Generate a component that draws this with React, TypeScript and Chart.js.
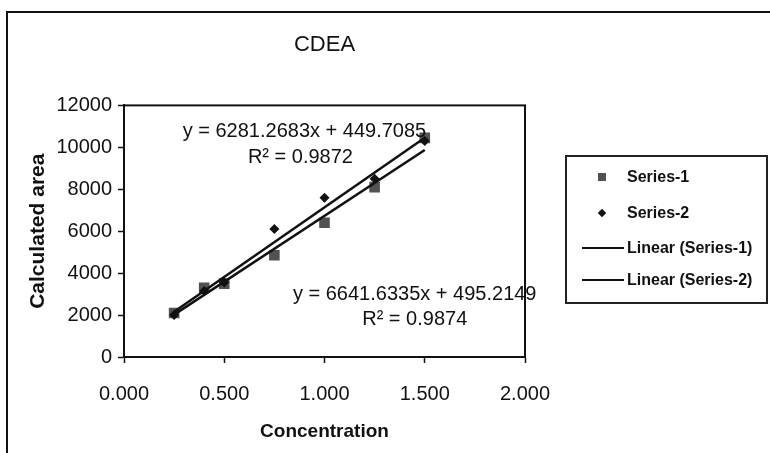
import React, { useEffect, useRef } from "react";
import { Chart, registerables } from "chart.js";

Chart.register(...registerables);

// ---- data ----
const chartTitle = "CDEA";
const xAxisTitle = "Concentration";
const yAxisTitle = "Calculated area";
const concentration = [0.25, 0.4, 0.5, 0.75, 1.0, 1.25, 1.5];
const series1 = [2100, 3300, 3500, 4850, 6400, 8100, 10450];
const series2 = [2000, 3150, 3550, 6100, 7600, 8500, 10300];
const seriesNames = ["Series-1", "Series-2"];
const trendNames = ["Linear (Series-1)", "Linear (Series-2)"];
const trendSlopes = [6641.6335, 6281.2683];
const trendIntercepts = [495.2149, 449.7085];
const trendR2 = ["0.9874", "0.9872"];
const xTickValues = [0, 0.5, 1, 1.5, 2];
const yTickValues = [0, 2000, 4000, 6000, 8000, 10000, 12000];

const FONT = '"Liberation Sans", Arial, sans-serif';

const xMin = Math.min(...concentration);
const xMax = Math.max(...concentration);
const trendLine = (i: number) => [
  { x: xMin, y: trendSlopes[i] * xMin + trendIntercepts[i] },
  { x: xMax, y: trendSlopes[i] * xMax + trendIntercepts[i] },
];
const eqText = (i: number) =>
  `y = ${trendSlopes[i].toFixed(4)}x + ${trendIntercepts[i].toFixed(4)}`;

// label anchors in data coordinates [x, y]
const labelAnchors = [
  { eq: [1.45, 2970], r2: [1.45, 1770] },
  { eq: [0.9, 10750], r2: [0.88, 9520] },
];

const framePlugin = {
  id: "frameAndLabels",
  afterDatasetsDraw(chart: any) {
    const { ctx, chartArea, scales } = chart;
    ctx.save();
    ctx.strokeStyle = "#111";
    ctx.lineWidth = 2;
    ctx.strokeRect(chartArea.left, chartArea.top, chartArea.right - chartArea.left, chartArea.bottom - chartArea.top);
    ctx.fillStyle = "#111";
    ctx.font = `20px ${FONT}`;
    ctx.textAlign = "center";
    ctx.textBaseline = "middle";
    [0, 1].forEach((i) => {
      const a = labelAnchors[i];
      ctx.fillText(eqText(i), scales.x.getPixelForValue(a.eq[0]), scales.y.getPixelForValue(a.eq[1]));
      ctx.fillText(`R² = ${trendR2[i]}`, scales.x.getPixelForValue(a.r2[0]), scales.y.getPixelForValue(a.r2[1]));
    });
    ctx.restore();
  },
};

const legendRows = [
  { label: seriesNames[0], kind: "square", h: 36 },
  { label: seriesNames[1], kind: "diamond", h: 36 },
  { label: trendNames[0], kind: "line", h: 33 },
  { label: trendNames[1], kind: "line", h: 31 },
];

export default function App() {
  const ref = useRef<HTMLCanvasElement>(null);
  useEffect(() => {
    if (!ref.current) return;
    const chart = new Chart(ref.current, {
      type: "scatter",
      data: {
        datasets: [
          {
            label: trendNames[0],
            data: trendLine(0),
            showLine: true,
            borderColor: "#111",
            borderWidth: 2.5,
            pointRadius: 0,
            order: 0,
          },
          {
            label: trendNames[1],
            data: trendLine(1),
            showLine: true,
            borderColor: "#111",
            borderWidth: 2.5,
            pointRadius: 0,
            order: 0,
          },
          {
            label: seriesNames[1],
            data: concentration.map((x, i) => ({ x, y: series2[i] })),
            pointStyle: "rectRot",
            pointRadius: 5,
            backgroundColor: "#111",
            borderColor: "#111",
            borderWidth: 0,
            order: 1,
          },
          {
            label: seriesNames[0],
            data: concentration.map((x, i) => ({ x, y: series1[i] })),
            pointStyle: "rect",
            pointRadius: 7.5,
            backgroundColor: "#525252",
            borderColor: "#525252",
            borderWidth: 0,
            order: 2,
          },
        ],
      },
      options: {
        responsive: false,
        animation: false,
        devicePixelRatio: 1,
        layout: { padding: { left: 0, top: 0, right: 245, bottom: 0 } },
        plugins: {
          legend: { display: false },
          tooltip: { enabled: false },
          title: {
            display: true,
            text: chartTitle,
            fullSize: false,
            color: "#111",
            font: { family: FONT, size: 22, weight: "normal" },
            padding: { top: 32, bottom: 47 },
          },
        },
        scales: {
          x: {
            type: "linear",
            min: 0,
            max: 2,
            afterBuildTicks: (s: any) => {
              s.ticks = xTickValues.map((v) => ({ value: v }));
            },
            afterFit: (s: any) => {
              s.height = 96;
            },
            ticks: {
              color: "#111",
              padding: 19,
              font: { family: FONT, size: 20 },
              callback: (v: any) => Number(v).toFixed(3),
            },
            grid: {
              display: true,
              drawOnChartArea: false,
              drawTicks: true,
              tickLength: 6,
              tickColor: "#111",
              tickWidth: 1.5,
            },
            border: { display: true, color: "#111", width: 2 },
            title: {
              display: true,
              text: xAxisTitle,
              color: "#111",
              font: { family: FONT, size: 19, weight: "bold" },
              padding: { top: 0, bottom: 10 },
            },
          },
          y: {
            type: "linear",
            min: 0,
            max: 12000,
            afterBuildTicks: (s: any) => {
              s.ticks = yTickValues.map((v) => ({ value: v }));
            },
            afterFit: (s: any) => {
              s.width = 124;
            },
            ticks: {
              color: "#111",
              padding: 6,
              font: { family: FONT, size: 20 },
              callback: (v: any) => String(v),
            },
            grid: {
              display: true,
              drawOnChartArea: false,
              drawTicks: true,
              tickLength: 6,
              tickColor: "#111",
              tickWidth: 1.5,
            },
            border: { display: true, color: "#111", width: 2 },
            title: {
              display: true,
              text: yAxisTitle,
              color: "#111",
              font: { family: FONT, size: 21, weight: "bold" },
              padding: { top: 26, bottom: 0 },
            },
          },
        },
      },
      plugins: [framePlugin],
    });
    return () => chart.destroy();
  }, []);

  return (
    <div style={{ position: "absolute", left: 0, top: 0, width: 770, height: 453, background: "#fff", overflow: "hidden" }}>
      <canvas ref={ref} width={770} height={453} style={{ position: "absolute", left: 0, top: 0, width: 770, height: 453 }} />
      <div
        style={{
          position: "absolute",
          left: 6,
          top: 11,
          width: 764,
          height: 442,
          borderLeft: "2px solid #111",
          borderTop: "2px solid #111",
          pointerEvents: "none",
        }}
      />
      <div
        style={{
          position: "absolute",
          left: 565,
          top: 155,
          width: 199,
          height: 143,
          border: "2px solid #222",
          paddingTop: 2,
          boxSizing: "content-box",
          fontFamily: FONT,
          fontWeight: "bold",
          fontSize: 16,
          color: "#111",
        }}
      >
        {legendRows.map((r) => (
          <div key={r.label} style={{ display: "flex", alignItems: "center", height: r.h }}>
            <div style={{ position: "relative", width: 60, height: r.h }}>
              {r.kind === "square" && (
                <div style={{ position: "absolute", left: 31, top: r.h / 2 - 4, width: 8, height: 8, background: "#525252" }} />
              )}
              {r.kind === "diamond" && (
                <div
                  style={{
                    position: "absolute",
                    left: 32,
                    top: r.h / 2 - 3,
                    width: 6,
                    height: 6,
                    background: "#111",
                    transform: "rotate(45deg)",
                  }}
                />
              )}
              {r.kind === "line" && (
                <div style={{ position: "absolute", left: 15, top: r.h / 2 - 1, width: 42, height: 2, background: "#111" }} />
              )}
            </div>
            <span style={{ whiteSpace: "nowrap" }}>{r.label}</span>
          </div>
        ))}
      </div>
    </div>
  );
}
